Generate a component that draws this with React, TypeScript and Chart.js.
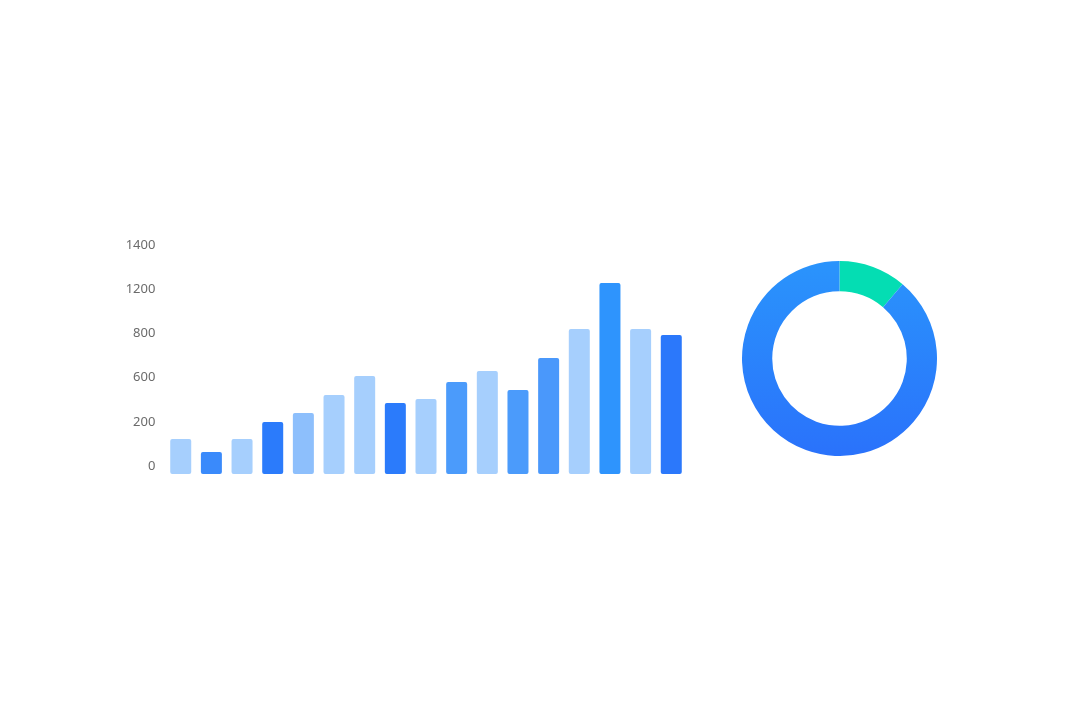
import React, { useEffect, useRef } from "react";
import { Chart, registerables } from "chart.js";

Chart.register(...registerables);

const months = ["1", "2", "3", "4", "5", "6", "7", "8", "9", "10", "11", "12", "13", "14", "15", "16", "17"];
const barValues = [222, 139, 222, 329, 386, 500, 621, 450, 475, 583, 652, 532, 735, 919, 1210, 919, 881];
const barColors = [
  "#a6cffd", "#3a8afb", "#a6cffd", "#2b7bfb", "#8dbffc", "#a6cffd", "#a6cffd", "#2b7bfb", "#a6cffd",
  "#4b9bfb", "#a6cffd", "#4b9bfb", "#4a98fb", "#a6cffd", "#2e94fd", "#a6cffd", "#2b78fb",
];
const tickLabels = ["0", "200", "600", "800", "1200", "1400"];

const donutLabels = ["A", "B"];
const donutValues = [11.2, 88.8];

const BarChart: React.FC = () => {
  const ref = useRef<HTMLCanvasElement>(null);
  useEffect(() => {
    if (!ref.current) return;
    const chart = new Chart(ref.current, {
      type: "bar",
      data: {
        labels: months,
        datasets: [
          {
            data: barValues,
            backgroundColor: barColors,
            borderWidth: 0,
            borderRadius: 2,
            borderSkipped: false,
            categoryPercentage: 1,
            barPercentage: 0.685,
          },
        ],
      },
      options: {
        animation: false,
        responsive: false,
        maintainAspectRatio: false,
        layout: { padding: { left: 0, right: 13.4, top: 32, bottom: 17 } },
        plugins: { legend: { display: false }, tooltip: { enabled: false } },
        scales: {
          x: { display: false },
          y: {
            min: 0,
            max: 1400,
            grid: { display: false },
            border: { display: false },
            afterFit: (scale: any) => {
              scale.width = 65.4;
            },
            ticks: {
              stepSize: 280,
              padding: 2,
              labelOffset: -8,
              color: "#6b6b6b",
              font: { family: "'Noto Sans', sans-serif", size: 13 },
              callback: (_v: any, i: number) => tickLabels[i],
            },
          },
        },
      },
    });
    return () => chart.destroy();
  }, []);
  return <canvas ref={ref} width={600} height={270} style={{ position: "absolute", left: 100, top: 221, width: 600, height: 270 }} />;
};

const DonutChart: React.FC = () => {
  const ref = useRef<HTMLCanvasElement>(null);
  useEffect(() => {
    if (!ref.current) return;
    const chart = new Chart(ref.current, {
      type: "doughnut",
      data: {
        labels: donutLabels,
        datasets: [
          {
            data: donutValues,
            borderWidth: 0,
            backgroundColor: (ctx: any) => {
              if (ctx.dataIndex === 0) return "#04ddb3";
              const area = ctx.chart.chartArea;
              if (!area) return "#2a84fb";
              const g = ctx.chart.ctx.createLinearGradient(0, area.top, 0, area.bottom);
              g.addColorStop(0, "#2a94fc");
              g.addColorStop(1, "#2a72fb");
              return g;
            },
          },
        ],
      },
      options: {
        animation: false,
        responsive: false,
        maintainAspectRatio: false,
        cutout: "69%",
        layout: { padding: 0 },
        plugins: { legend: { display: false }, tooltip: { enabled: false } },
      },
    });
    return () => chart.destroy();
  }, []);
  return <canvas ref={ref} width={195} height={195} style={{ position: "absolute", left: 742, top: 261, width: 195, height: 195 }} />;
};

export default function App() {
  return (
    <div style={{ position: "fixed", left: 0, top: 0, width: 1075, height: 716, background: "#fff" }}>
      <BarChart />
      <DonutChart />
    </div>
  );
}
